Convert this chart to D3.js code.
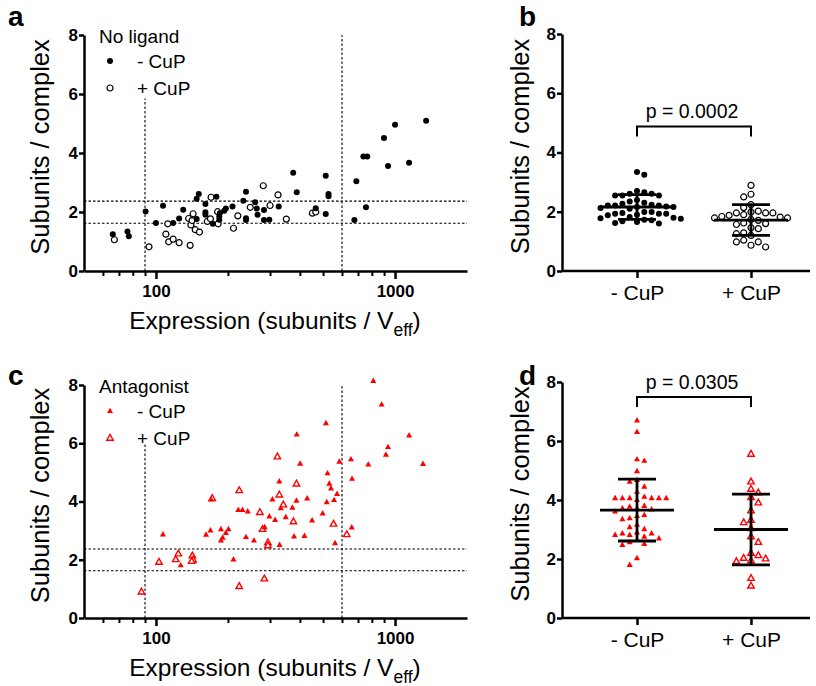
<!DOCTYPE html>
<html>
<head>
<meta charset="utf-8">
<script src="https://cdn.jsdelivr.net/npm/d3@7"></script>
<style>
body { margin: 0; background: #fff; }
svg { font-family: "Liberation Sans", Arial, Helvetica, sans-serif; }
</style>
</head>
<body>
<svg width="816" height="686"></svg>
<script>
// ---- data ----
// scatter panels: [expression (subunits / Veff), subunits / complex]
var noLigandMinus = [[66,1.25],[76,1.34],[77,1.18],[90.5,2.02],[100,1.63],[107,2.21],[118,1.63],[125,1.78],[130,2.08],
  [148,1.76],[148,2.45],[151,2.61],[161,2.27],[161,1.99],[161,1.91],[173,1.60],[179,2.52],[184,1.74],[184,1.85],
  [185,1.96],[193,2.04],[196,2.12],[209,2.19],[232,2.38],[238,2.69],[238,1.79],[238,1.73],[260,2.33],[264,2.12],
  [266,1.91],[283,2.07],[283,1.73],[298,1.74],[326,2.19],[375,3.33],[388,2.67],[466,2.13],[513,3.23],[513,1.93],
  [527,2.61],[527,2.53],[676,1.73],[689,3.04],[737,3.88],[765,3.88],[756,2.16],[899,4.51],[935,3.56],[1000,4.96],
  [1145,3.67],[1349,5.09]];
var noLigandPlus = [[67,1.06],[93.5,0.82],[110,1.25],[112,1.60],[113,0.99],[118,1.08],[125,0.96],[137,1.78],[139,0.87],
  [140,1.56],[141.5,1.71],[143,1.94],[146,1.40],[152,1.32],[164,1.68],[169,1.77],[170,2.50],[181,2.01],[182,1.60],
  [220,1.87],[211,1.45],[248,2.16],[281,2.89],[300,2.22],[324,2.58],[351,1.76],[451,1.96],[466,2.00]];
var antagMinus = [[107,2.87],[127,1.81],[162,2.86],[169,3.01],[170,4.07],[187,3.05],[187,2.66],[190,2.76],[196,2.92],
  [201,3.05],[211,2.01],[221,3.71],[230,3.71],[238,2.78],[242,3.66],[257,2.66],[285,3.12],[298,3.49],[307,4.07],
  [315,3.37],[328,4.69],[329,2.51],[333,3.77],[349,3.46],[372,3.79],[378,2.80],[388,6.30],[387,4.03],[401,5.30],
  [418,2.82],[429,4.11],[450,3.35],[498,3.59],[514,6.69],[518,3.98],[522,4.97],[531,4.61],[540,4.45],[556,4.05],
  [561,2.57],[572,4.26],[585,5.37],[654,5.45],[661,4.78],[659,3.11],[773,5.27],[811,8.14],[879,7.33],[916,5.61],
  [935,5.87],[1145,6.27],[1309,5.29]];
var antagPlus = [[87,0.90],[103,1.92],[121,2.01],[124,2.21],[142,2.14],[143,2.00],[141,1.95],[172,4.11],[223,4.38],
  [223,1.09],[272,3.63],[279,3.05],[284,1.35],[294,2.59],[294,2.49],[322,5.54],[328,4.23],[341,3.89],[376,3.31],
  [387,4.61],[553,3.23],[628,2.87]];

// dot plots (cells inside the expression gate)
var groups = ["- CuP", "+ CuP"];
var gatedNoLigMinus = [3.34,3.25,2.70,2.66,2.61,2.61,2.55,2.55,2.55,2.40,2.35,2.30,2.27,2.24,2.21,2.21,2.21,2.18,2.16,2.16,
  2.13,2.10,1.99,1.99,1.96,1.93,1.93,1.93,1.90,1.88,1.82,1.80,1.78,1.76,1.73,1.71,1.68,1.65,1.62,1.60];
var gatedNoLigPlus = [2.89,2.59,2.50,2.24,2.14,2.02,1.99,1.96,1.96,1.96,1.90,1.88,1.84,1.82,1.79,1.79,1.74,1.71,1.62,1.60,
  1.57,1.46,1.43,1.29,1.26,1.20,1.04,0.98,0.98,0.87,0.81];
var gatedAntagMinus = [6.70,6.31,5.38,5.33,4.98,4.68,4.62,4.45,4.28,4.11,4.06,4.06,4.06,4.06,4.06,4.06,4.00,3.80,3.77,3.72,
  3.72,3.68,3.61,3.49,3.46,3.38,3.35,3.16,3.08,3.01,2.90,2.87,2.87,2.82,2.82,2.76,2.70,2.65,2.57,2.51,2.48,2.03,1.80];
var gatedAntagPlus = [5.56,4.62,4.37,4.25,4.09,3.91,3.64,3.32,3.24,3.04,2.76,2.57,2.20,2.12,2.03,2.01,1.95,1.92,1.35,1.09];
var noLigMean = [2.16, 1.72], noLigSD = [0.42, 0.52];
var antagMean = [3.66, 3.00], antagSD = [1.05, 1.20];
var pValues = ["p = 0.0002", "p = 0.0305"];

// gates
var expressionGate = [90, 600];
var stoichGate = [1.62, 2.37];
var majorX = [100, 1000];
var minorX = [60, 70, 80, 90, 200, 300, 400, 500, 600, 700, 800, 900];
var yTicks = [0, 2, 4, 6, 8];

var svg = d3.select("svg");
var RED = "#ff0000";

function tri(r) {
  return "M0," + (-r * 1.05) + "L" + (r * 0.95) + "," + (r * 0.65) + "L" + (-r * 0.95) + "," + (r * 0.65) + "Z";
}

function drawMarker(sel, kind, filled) {
  if (kind === "circle") {
    sel.append("circle").attr("r", 3)
      .attr("fill", filled ? "#000" : "#fff")
      .attr("stroke", "#000").attr("stroke-width", filled ? 0 : 1.2);
  } else {
    if (filled) sel.append("path").attr("d", tri(3.2)).attr("fill", RED);
    else sel.append("path").attr("d", tri(3.4)).attr("fill", "#fff").attr("stroke", RED).attr("stroke-width", 1.4);
  }
}

function styleAxis(g) {
  g.selectAll(".domain").attr("stroke-width", 2.5);
  g.selectAll(".tick line").attr("stroke-width", 2.5);
}

function yAxis(y, x0) {
  var g = svg.append("g").attr("transform", "translate(" + x0 + ",0)")
    .call(d3.axisLeft(y).tickValues(yTicks).tickSize(5).tickSizeOuter(0).tickPadding(1).tickFormat(d3.format("d")));
  g.selectAll("text").attr("font-size", 17).attr("font-weight", "bold").attr("font-family", null).attr("fill", "#000");
  styleAxis(g);
}

function yTitle(cx, cy) {
  svg.append("text").attr("transform", "translate(" + cx + "," + cy + ") rotate(-90)")
    .attr("text-anchor", "middle").attr("font-size", 25.5).text("Subunits / complex");
}

function scatterPanel(o) {
  var x = d3.scaleLog().domain([50, 2000]).range([84, 467]);
  var y = d3.scaleLinear().domain([0, 8]).range(o.yRange);

  // gates
  var dot = "2.5,2";
  stoichGate.forEach(function (v) {
    svg.append("line").attr("x1", x(50)).attr("x2", x(2000)).attr("y1", y(v)).attr("y2", y(v))
      .attr("stroke", "#000").attr("stroke-width", 1.1).attr("stroke-dasharray", dot);
  });
  svg.append("line").attr("x1", x(expressionGate[0])).attr("x2", x(expressionGate[0]))
    .attr("y1", y(0)).attr("y2", y(o.leftGateTop))
    .attr("stroke", "#000").attr("stroke-width", 1.1).attr("stroke-dasharray", dot);
  svg.append("line").attr("x1", x(expressionGate[1])).attr("x2", x(expressionGate[1]))
    .attr("y1", y(0)).attr("y2", y(8))
    .attr("stroke", "#000").attr("stroke-width", 1.1).attr("stroke-dasharray", dot);

  // points
  [[o.plus, false], [o.minus, true]].forEach(function (s) {
    svg.append("g").selectAll("g").data(s[0]).enter().append("g")
      .attr("transform", function (d) { return "translate(" + x(d[0]) + "," + y(d[1]) + ")"; })
      .each(function () { drawMarker(d3.select(this), o.kind, s[1]); });
  });

  // x axis
  var ax = svg.append("g").attr("transform", "translate(0," + y(0) + ")")
    .call(d3.axisBottom(x).tickValues(majorX).tickSize(8).tickSizeOuter(0).tickPadding(6).tickFormat(d3.format("d")));
  ax.selectAll("text").attr("font-size", 17).attr("font-weight", "bold").attr("font-family", null).attr("fill", "#000");
  styleAxis(ax);
  var mx = svg.append("g").attr("transform", "translate(0," + y(0) + ")")
    .call(d3.axisBottom(x).tickValues(minorX).tickSize(5).tickFormat(""));
  mx.select(".domain").remove();
  mx.selectAll(".tick line").attr("stroke-width", 2);
  yAxis(y, 84);

  // axis titles
  yTitle(49, (o.yRange[0] + o.yRange[1]) / 2 - 6);
  var t = svg.append("text").attr("x", 275).attr("y", o.yRange[0] + 58).attr("text-anchor", "middle").attr("font-size", 24.5);
  t.append("tspan").text("Expression (subunits / V");
  t.append("tspan").attr("dy", 7).attr("font-size", 17.5).text("eff");
  t.append("tspan").attr("dy", -7).text(")");

  // legend
  var ly = o.yRange[1];
  svg.append("text").attr("x", 99).attr("y", ly + 8).attr("font-size", 19).text(o.title);
  [[true, 26, "- CuP"], [false, 53, "+ CuP"]].forEach(function (l) {
    var g = svg.append("g").attr("transform", "translate(110," + (ly + l[1]) + ")");
    drawMarker(g, o.kind, l[0]);
    svg.append("text").attr("x", 137).attr("y", ly + l[1] + 7).attr("font-size", 19).text(l[2]);
  });
}

function swarm(vals, y, cx, step) {
  var placed = [];
  vals.slice().sort(d3.descending).forEach(function (v, i) {
    var py = y(v), sign = i % 2 ? 1 : -1;
    for (var k = 0; k < 60; k++) {
      var off = k === 0 ? 0 : Math.ceil(k / 2) * step * (k % 2 ? sign : -sign);
      var px = cx + off;
      var hit = placed.some(function (p) { return Math.hypot(p.x - px, p.y - py) < step - 0.3; });
      if (!hit) { placed.push({ x: px, y: py }); break; }
    }
  });
  return placed;
}

function dotPanel(o) {
  var x = d3.scalePoint().domain(groups).range([637, 751]);
  var y = d3.scaleLinear().domain([0, 8]).range(o.yRange);

  [[o.minus, true], [o.plus, false]].forEach(function (s, i) {
    var pts = swarm(s[0], y, x(groups[i]), 7.3);
    svg.append("g").selectAll("g").data(pts).enter().append("g")
      .attr("transform", function (d) { return "translate(" + d.x + "," + d.y + ")"; })
      .each(function () { drawMarker(d3.select(this), o.kind, s[1]); });
  });

  // mean +/- SD
  groups.forEach(function (gname, i) {
    var cx = x(gname), m = o.mean[i], sd = o.sd[i];
    var g = svg.append("g").attr("stroke", "#000").attr("stroke-width", 2.8);
    g.append("line").attr("x1", cx - 37).attr("x2", cx + 37).attr("y1", y(m)).attr("y2", y(m));
    g.append("line").attr("x1", cx).attr("x2", cx).attr("y1", y(m - sd)).attr("y2", y(m + sd));
    [m - sd, m + sd].forEach(function (v) {
      g.append("line").attr("x1", cx - 19).attr("x2", cx + 19).attr("y1", y(v)).attr("y2", y(v));
    });
  });

  // significance bracket
  var by = y(o.bracket);
  svg.append("path")
    .attr("d", "M" + x(groups[0]) + "," + (by + 10) + "V" + by + "H" + x(groups[1]) + "V" + (by + 10))
    .attr("fill", "none").attr("stroke", "#000").attr("stroke-width", 2);
  svg.append("text").attr("x", (x(groups[0]) + x(groups[1])) / 2 - 2).attr("y", by - 8)
    .attr("text-anchor", "middle").attr("font-size", 19.5).text(o.p);

  // axes
  var ax = svg.append("g").attr("transform", "translate(0," + y(0) + ")")
    .call(d3.axisBottom(x).tickSize(7).tickSizeOuter(0).tickPadding(7));
  ax.select(".domain").attr("d", "M562,0H810");
  ax.selectAll("text").attr("font-size", 21).attr("font-family", null).attr("fill", "#000");
  styleAxis(ax);
  yAxis(y, 562);
  yTitle(529, (o.yRange[0] + o.yRange[1]) / 2 - 6);
}

scatterPanel({ minus: noLigandMinus, plus: noLigandPlus, kind: "circle", title: "No ligand", yRange: [271, 35], leftGateTop: 5.85 });
scatterPanel({ minus: antagMinus, plus: antagPlus, kind: "tri", title: "Antagonist", yRange: [618, 385], leftGateTop: 6 });
dotPanel({ minus: gatedNoLigMinus, plus: gatedNoLigPlus, kind: "circle", mean: noLigMean, sd: noLigSD, bracket: 4.88, p: pValues[0], yRange: [271, 34] });
dotPanel({ minus: gatedAntagMinus, plus: gatedAntagPlus, kind: "tri", mean: antagMean, sd: antagSD, bracket: 7.49, p: pValues[1], yRange: [618, 382] });

// panel letters
[["a", 8, 26], ["b", 519, 26], ["c", 8, 385], ["d", 519, 385]].forEach(function (l) {
  svg.append("text").attr("x", l[1]).attr("y", l[2]).attr("font-size", 28).attr("font-weight", "bold").text(l[0]);
});
</script>
</body>
</html>
